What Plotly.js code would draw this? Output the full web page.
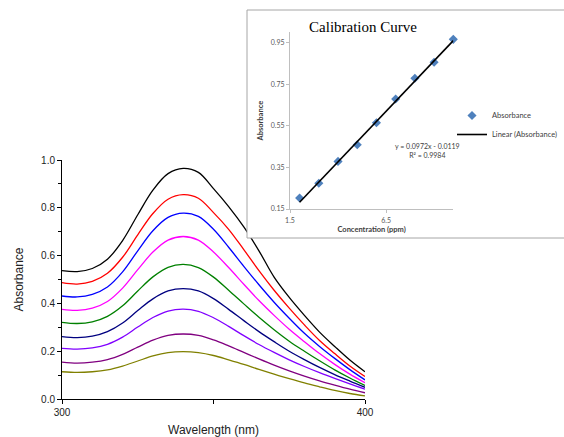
<!DOCTYPE html>
<html><head><meta charset="utf-8">
<script src="https://cdn.plot.ly/plotly-3.0.1.min.js"></script>
<style>html,body{margin:0;padding:0;background:#fff;overflow:hidden}#chart{width:564px;height:437px}</style>
</head><body><div id="chart"></div>
<script>
// ---- Main spectrum data ----
const wavelengths = [300,305,310,315,320,325,330,335,340,345,350,355,360,365,370,375,380,385,390,395,400];
const absBlack   = [0.537,0.533,0.546,0.585,0.663,0.771,0.874,0.943,0.965,0.948,0.880,0.805,0.720,0.620,0.510,0.425,0.350,0.280,0.220,0.163,0.114];
const absRed     = [0.487,0.481,0.492,0.526,0.593,0.687,0.776,0.836,0.855,0.840,0.780,0.710,0.625,0.537,0.455,0.380,0.310,0.245,0.190,0.138,0.094];
const absBlue    = [0.431,0.427,0.438,0.469,0.532,0.620,0.704,0.760,0.778,0.764,0.710,0.635,0.555,0.478,0.405,0.338,0.275,0.220,0.170,0.123,0.080];
const absMagenta = [0.375,0.371,0.380,0.408,0.464,0.541,0.615,0.665,0.680,0.665,0.615,0.550,0.480,0.412,0.350,0.292,0.240,0.190,0.145,0.104,0.068];
const absGreen   = [0.321,0.316,0.323,0.346,0.390,0.452,0.511,0.551,0.563,0.550,0.510,0.455,0.398,0.342,0.290,0.242,0.200,0.160,0.122,0.088,0.057];
const absNavy    = [0.261,0.257,0.263,0.282,0.318,0.370,0.419,0.452,0.462,0.452,0.420,0.375,0.328,0.282,0.240,0.200,0.165,0.132,0.102,0.075,0.049];
const absViolet  = [0.212,0.209,0.214,0.229,0.259,0.301,0.341,0.368,0.376,0.367,0.340,0.304,0.265,0.228,0.195,0.164,0.136,0.110,0.086,0.063,0.041];
const absPurple  = [0.154,0.150,0.154,0.165,0.187,0.217,0.246,0.266,0.272,0.266,0.247,0.222,0.195,0.168,0.142,0.118,0.096,0.076,0.058,0.041,0.026];
const absOlive   = [0.114,0.111,0.114,0.122,0.138,0.159,0.180,0.194,0.198,0.194,0.182,0.164,0.145,0.124,0.104,0.085,0.067,0.051,0.036,0.023,0.013];
const spectra = [absBlack,absRed,absBlue,absMagenta,absGreen,absNavy,absViolet,absPurple,absOlive];
const spectrumColors = ['#000000','#ff0000','#0000ff','#ff00ff','#008000','#000080','#8000ff','#800080','#808000'];

// ---- Calibration inset data ----
const concentrations = [2,3,4,5,6,7,8,9,10];
const calAbsorbance  = [0.203,0.274,0.379,0.459,0.565,0.679,0.779,0.856,0.966];
const fitSlope = 0.0972, fitIntercept = -0.0119;
const fitX = [2,10];
const fitY = fitX.map(x => fitSlope*x + fitIntercept);

const mainXTicks = [300,400];
const mainYTicks = [0,0.2,0.4,0.6,0.8,1.0];
const insetXTicks = [1.5,6.5];
const insetYTicks = [0.15,0.35,0.55,0.75,0.95];

const W = 564, H = 437;
const px = x => x / W, py = y => 1 - y / H;

const traces = [];
spectra.forEach((s, i) => {
  traces.push({x: wavelengths, y: s, type: 'scatter', mode: 'lines',
    line: {color: spectrumColors[i], width: 1.3, shape: 'spline', smoothing: 1},
    showlegend: false, hoverinfo: 'skip', xaxis: 'x', yaxis: 'y'});
});
// white frame of the inset (subplot 2)
traces.push({x: [], y: [], type: 'scatter', mode: 'markers', xaxis: 'x2', yaxis: 'y2', showlegend: false, hoverinfo: 'skip'});
// inset data
traces.push({x: concentrations, y: calAbsorbance, type: 'scatter', mode: 'markers', name: 'Absorbance',
  marker: {symbol: 'diamond', size: 7, color: '#4f81bd'}, xaxis: 'x3', yaxis: 'y3', cliponaxis: false});
traces.push({x: fitX, y: fitY, type: 'scatter', mode: 'lines', name: 'Linear (Absorbance)',
  line: {color: '#000', width: 1.6}, xaxis: 'x3', yaxis: 'y3', cliponaxis: false});

const insetFont = 'Lato, "Open Sans", sans-serif';
const layout = {
  width: W, height: H, margin: {l: 0, r: 0, t: 0, b: 0, pad: 0, autoexpand: false},
  paper_bgcolor: '#ffffff', plot_bgcolor: '#ffffff',
  font: {family: '"Liberation Sans", Arial, sans-serif', color: '#222'},
  showlegend: true,
  title: {text: 'Calibration Curve', font: {family: '"Liberation Serif", "Times New Roman", serif', size: 15, color: '#000'},
    x: px(363), xref: 'paper', y: py(27), yref: 'paper', xanchor: 'center', yanchor: 'middle'},
  xaxis: {domain: [px(62), px(365)], anchor: 'y', range: [300, 400], tickvals: mainXTicks,
    ticks: 'outside', ticklen: 4, tickcolor: '#000', showline: true, linecolor: '#000', linewidth: 1,
    showgrid: false, zeroline: false, minor: {dtick: 50, tick0: 300, ticks: 'outside', ticklen: 4, tickcolor: '#000'},
    tickfont: {size: 10, color: '#222'},
    title: {text: 'Wavelength (nm)', font: {size: 12, color: '#222'}, standoff: 12}},
  yaxis: {domain: [py(399), py(160)], anchor: 'x', range: [0, 1], tickvals: mainYTicks, tickformat: '.1f',
    ticks: 'outside', ticklen: 4, tickcolor: '#000', showline: true, linecolor: '#000', linewidth: 1,
    showgrid: false, zeroline: false, minor: {dtick: 0.1, tick0: 0, ticks: 'outside', ticklen: 3, tickcolor: '#000'},
    tickfont: {size: 10, color: '#222'},
    title: {text: 'Absorbance', font: {size: 12, color: '#222'}, standoff: 14}},
  xaxis2: {domain: [px(247), 1], anchor: 'y2', range: [0, 1], showline: false, visible: false,
    showticklabels: false, ticks: '', showgrid: false, zeroline: false, fixedrange: true},
  yaxis2: {domain: [py(238), py(10)], anchor: 'x2', range: [0, 1], showline: false, visible: false,
    showticklabels: false, ticks: '', showgrid: false, zeroline: false, fixedrange: true},
  xaxis3: {domain: [px(290), px(453.3)], anchor: 'y3', range: [1.5, 10], tickvals: insetXTicks, tickformat: '.1f',
    ticks: 'outside', ticklen: 3, tickcolor: '#bfbfbf', showline: true, linecolor: '#bfbfbf', ticklabelstandoff: 2,
    showgrid: false, zeroline: false, tickfont: {family: insetFont, size: 7, color: '#595959'},
    title: {text: '<b>Concentration (ppm)</b>', font: {family: insetFont, size: 7.5, color: '#404040'}, standoff: 3}},
  yaxis3: {domain: [py(209), py(32.3)], anchor: 'x3', range: [0.15, 1.0], tickvals: insetYTicks, tickformat: '.2f',
    ticks: 'outside', ticklen: 3, tickcolor: '#bfbfbf', showline: true, linecolor: '#bfbfbf',
    showgrid: false, zeroline: false, tickfont: {family: insetFont, size: 7, color: '#595959'},
    title: {text: '<b>Absorbance</b>', font: {family: insetFont, size: 7.5, color: '#404040'}, standoff: 6}},
  legend: {x: px(562), y: py(101), xanchor: 'right', yanchor: 'top', xref: 'paper', yref: 'paper',
    font: {family: insetFont, size: 7.5, color: '#404040'}, bgcolor: 'rgba(0,0,0,0)', itemwidth: 30, tracegroupgap: 0},
  shapes: [
    {type: 'rect', xref: 'paper', yref: 'paper', x0: px(247), x1: px(580), y0: py(238), y1: py(10),
     line: {color: '#a6a6a6', width: 1}, fillcolor: 'rgba(0,0,0,0)', layer: 'above'}
  ],
  annotations: [
    {text: 'y = 0.0972x - 0.0119<br>R² = 0.9984', xref: 'paper', yref: 'paper', x: px(427), y: py(150),
     xanchor: 'center', yanchor: 'middle', showarrow: false, align: 'center',
     font: {family: insetFont, size: 7, color: '#404040'}}
  ]
};

Plotly.newPlot('chart', traces, layout, {displayModeBar: false, staticPlot: true});
</script></body></html>
